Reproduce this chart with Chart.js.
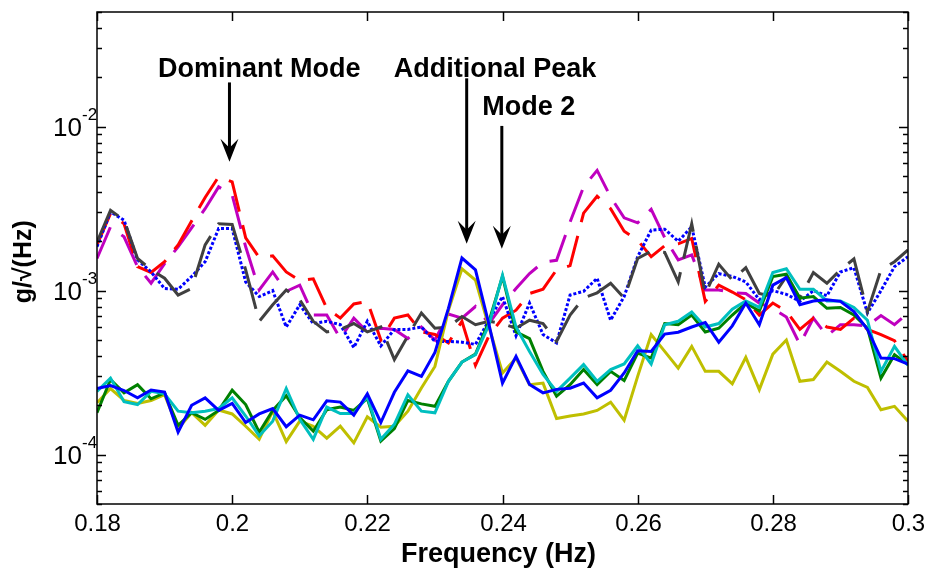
<!DOCTYPE html>
<html>
<head>
<meta charset="utf-8">
<title>Acceleration PSD</title>
<script src="https://cdn.jsdelivr.net/npm/chart.js@4.4.1/dist/chart.umd.min.js"></script>
<style>
  html, body { margin: 0; padding: 0; background: #fff; }
  #wrap { width: 927px; height: 569px; }
</style>
</head>
<body>
<div id="wrap"><canvas id="psdChart" width="927" height="569"></canvas></div>
<script>
// frequency bins (Hz)
const freqs = [
  0.180, 0.182, 0.184, 0.186, 0.188, 0.190, 0.192, 0.194, 0.196, 0.198,
  0.200, 0.202, 0.204, 0.206, 0.208, 0.210, 0.212, 0.214, 0.216, 0.218,
  0.220, 0.222, 0.224, 0.226, 0.228, 0.230, 0.232, 0.234, 0.236, 0.238,
  0.240, 0.242, 0.244, 0.246, 0.248, 0.250, 0.252, 0.254, 0.256, 0.258,
  0.260, 0.262, 0.264, 0.266, 0.268, 0.270, 0.272, 0.274, 0.276, 0.278,
  0.280, 0.282, 0.284, 0.286, 0.288, 0.290, 0.292, 0.294, 0.296, 0.298,
  0.300
];

// upper group (g/sqrt(Hz))
const redDash = [
  1.9e-3, 2.95e-3, 2.56e-3, 1.40e-3, 1.29e-3, 1.50e-3, 1.9e-3, 2.66e-3, 3.7e-3, 4.95e-3,
  4.6e-3, 2.1e-3, 1.59e-3, 1.63e-3, 1.30e-3, 1.15e-3, 1.18e-3, 7.8e-4, 6.8e-4, 8.3e-4,
  8.6e-4, 5.0e-4, 6.8e-4, 7.1e-4, 5.6e-4, 5.4e-4, 4.8e-4, 6.5e-4, 3.5e-4, 5.3e-4,
  6.8e-4, 7.6e-4, 9.6e-4, 1.02e-3, 1.34e-3, 1.42e-3, 2.97e-3, 3.76e-3, 3.16e-3, 2.30e-3,
  2.03e-3, 1.61e-3, 1.88e-3, 1.93e-3, 2.08e-3, 8.6e-4, 1.08e-3, 9.8e-4, 8.8e-4, 7.1e-4,
  8.4e-4, 7.5e-4, 5.8e-4, 6.8e-4, 6.0e-4, 5.8e-4, 6.8e-4, 5.8e-4, 5.4e-4, 4.95e-4,
  3.7e-4
];
const magentaDash = [
  1.57e-3, 2.45e-3, 2.13e-3, 1.40e-3, 1.11e-3, 1.46e-3, 1.85e-3, 2.41e-3, 3.16e-3, 4.29e-3,
  3.83e-3, 1.85e-3, 1.01e-3, 1.30e-3, 9.9e-4, 1.08e-3, 7.1e-4, 7.1e-4, 5.1e-4, 6.8e-4,
  5.6e-4, 5.9e-4, 5.8e-4, 5.1e-4, 6.0e-4, 5.0e-4, 7.2e-4, 6.8e-4, 8.0e-4, 6.3e-4,
  8.2e-4, 1.03e-3, 1.27e-3, 1.49e-3, 1.53e-3, 2.62e-3, 4.29e-3, 5.41e-3, 3.72e-3, 2.78e-3,
  2.59e-3, 3.13e-3, 2.10e-3, 1.54e-3, 1.65e-3, 1.01e-3, 1.01e-3, 9.7e-4, 9.6e-4, 8.4e-4,
  7.8e-4, 6.9e-4, 4.7e-4, 6.8e-4, 5.3e-4, 6.2e-4, 6.2e-4, 6.1e-4, 7.05e-4, 6.2e-4,
  7.3e-4
];
const grayDash = [
  1.98e-3, 3.09e-3, 2.69e-3, 1.57e-3, 1.34e-3, 1.19e-3, 9.4e-4, 1.03e-3, 1.90e-3, 2.56e-3,
  2.53e-3, 1.34e-3, 6.5e-4, 8.2e-4, 1.01e-3, 8.8e-4, 6.5e-4, 5.6e-4, 5.8e-4, 6.3e-4,
  5.6e-4, 6.0e-4, 3.8e-4, 5.3e-4, 7.3e-4, 5.9e-4, 6.0e-4, 6.95e-4, 6.2e-4, 6.5e-4,
  6.3e-4, 5.9e-4, 6.6e-4, 6.3e-4, 4.9e-4, 7.1e-4, 9.0e-4, 9.7e-4, 1.11e-3, 9.0e-4,
  1.57e-3, 1.74e-3, 1.71e-3, 1.13e-3, 2.56e-3, 9.5e-4, 1.45e-3, 1.16e-3, 1.38e-3, 9.6e-4,
  9.2e-4, 1.22e-3, 9.0e-4, 1.29e-3, 1.11e-3, 1.34e-3, 1.56e-3, 7.45e-4, 1.34e-3, 1.50e-3,
  1.77e-3
];
const blueDotted = [
  1.85e-3, 3.02e-3, 2.69e-3, 1.54e-3, 1.30e-3, 1.03e-3, 1.02e-3, 1.22e-3, 1.50e-3, 2.39e-3,
  2.39e-3, 1.13e-3, 9.2e-4, 1.0e-3, 6.0e-4, 8.2e-4, 6.3e-4, 6.5e-4, 6.2e-4, 4.5e-4,
  6.5e-4, 4.6e-4, 5.8e-4, 5.8e-4, 6.0e-4, 4.9e-4, 4.9e-4, 4.85e-4, 4.7e-4, 6.6e-4,
  9.2e-4, 5.3e-4, 8.4e-4, 5.4e-4, 4.8e-4, 9.4e-4, 9.9e-4, 1.19e-3, 6.6e-4, 9.2e-4,
  1.61e-3, 2.34e-3, 2.37e-3, 2.0e-3, 2.45e-3, 1.05e-3, 1.27e-3, 1.22e-3, 1.13e-3, 8.8e-4,
  1.0e-3, 9.5e-4, 8.6e-4, 1.0e-3, 9.3e-4, 1.30e-3, 1.38e-3, 7.3e-4, 1.0e-3, 1.40e-3,
  1.61e-3
];

// lower group
const greenSolid = [
  1.80e-4, 2.87e-4, 2.38e-4, 2.67e-4, 2.19e-4, 2.38e-4, 1.51e-4, 1.80e-4, 1.64e-4, 1.86e-4,
  2.47e-4, 2.02e-4, 1.37e-4, 1.86e-4, 2.29e-4, 1.68e-4, 1.39e-4, 1.88e-4, 1.95e-4, 1.86e-4,
  2.2e-4, 1.21e-4, 1.44e-4, 2.14e-4, 2.04e-4, 1.97e-4, 2.80e-4, 3.67e-4, 4.10e-4, 6.5e-4,
  1.22e-3, 5.6e-4, 5.1e-4, 3.22e-4, 2.27e-4, 2.67e-4, 3.30e-4, 2.67e-4, 3.22e-4, 2.83e-4,
  4.16e-4, 3.88e-4, 6.3e-4, 6.2e-4, 7.1e-4, 5.6e-4, 5.9e-4, 7.1e-4, 8.4e-4, 7.5e-4,
  1.22e-3, 1.26e-3, 9.0e-4, 9.2e-4, 7.8e-4, 7.9e-4, 7.1e-4, 5.9e-4, 2.93e-4, 4.07e-4,
  3.54e-4
];
const cyanSolid = [
  2.43e-4, 2.93e-4, 2.10e-4, 2.02e-4, 2.43e-4, 2.35e-4, 1.84e-4, 1.80e-4, 1.84e-4, 1.91e-4,
  2.22e-4, 1.72e-4, 1.30e-4, 1.60e-4, 2.53e-4, 1.64e-4, 1.24e-4, 1.95e-4, 1.78e-4, 1.78e-4,
  2.25e-4, 1.24e-4, 1.53e-4, 2.32e-4, 1.84e-4, 1.80e-4, 2.80e-4, 3.67e-4, 4.07e-4, 6.2e-4,
  1.24e-3, 6.0e-4, 4.26e-4, 3.08e-4, 2.43e-4, 2.93e-4, 3.54e-4, 2.80e-4, 3.30e-4, 3.57e-4,
  4.61e-4, 3.57e-4, 6.2e-4, 6.5e-4, 7.4e-4, 6.0e-4, 6.3e-4, 7.7e-4, 8.65e-4, 7.9e-4,
  1.29e-3, 1.36e-3, 1.02e-3, 1.02e-3, 8.65e-4, 8.65e-4, 7.9e-4, 6.6e-4, 3.22e-4, 4.57e-4,
  3.50e-4
];
const blueSolid = [
  2.53e-4, 2.64e-4, 2.46e-4, 2.22e-4, 2.48e-4, 2.41e-4, 1.37e-4, 2.0e-4, 2.22e-4, 1.86e-4,
  2.05e-4, 1.57e-4, 1.77e-4, 1.91e-4, 1.48e-4, 1.74e-4, 1.63e-4, 2.13e-4, 2.09e-4, 1.74e-4,
  2.35e-4, 1.57e-4, 2.40e-4, 3.24e-4, 3.00e-4, 4.20e-4, 7.8e-4, 1.58e-3, 1.34e-3, 6.2e-4,
  2.73e-4, 3.97e-4, 2.68e-4, 2.38e-4, 2.50e-4, 2.54e-4, 2.73e-4, 2.22e-4, 2.47e-4, 3.15e-4,
  4.30e-4, 4.26e-4, 5.43e-4, 5.58e-4, 6.0e-4, 6.4e-4, 4.85e-4, 6.1e-4, 8.4e-4, 6.2e-4,
  1.08e-3, 1.20e-3, 8.2e-4, 8.65e-4, 8.8e-4, 8.6e-4, 7.45e-4, 5.8e-4, 3.88e-4, 3.85e-4,
  3.57e-4
];
const yellowSolid = [
  2.07e-4, 2.53e-4, 2.14e-4, 2.05e-4, 2.14e-4, 2.32e-4, 1.44e-4, 1.80e-4, 1.51e-4, 1.87e-4,
  1.77e-4, 1.49e-4, 1.24e-4, 1.84e-4, 1.20e-4, 1.60e-4, 1.49e-4, 1.26e-4, 1.49e-4, 1.18e-4,
  1.70e-4, 1.47e-4, 1.49e-4, 1.84e-4, 2.55e-4, 3.45e-4, 7.6e-4, 1.36e-3, 1.16e-3, 6.0e-4,
  3.15e-4, 3.88e-4, 2.67e-4, 2.73e-4, 1.66e-4, 1.72e-4, 1.77e-4, 1.86e-4, 2.09e-4, 1.62e-4,
  3.00e-4, 5.4e-4, 4.26e-4, 3.37e-4, 4.57e-4, 3.22e-4, 3.22e-4, 2.70e-4, 3.92e-4, 2.49e-4,
  4.10e-4, 5.0e-4, 2.80e-4, 2.87e-4, 3.67e-4, 3.22e-4, 2.80e-4, 2.57e-4, 1.88e-4, 1.97e-4,
  1.60e-4
];

// axes
const xTicks = [0.18, 0.20, 0.22, 0.24, 0.26, 0.28, 0.30];
const xTickLabels = ['0.18', '0.2', '0.22', '0.24', '0.26', '0.28', '0.3'];
const yMajor = [1e-4, 1e-3, 1e-2];
const yMajorExp = ['-4', '-3', '-2'];
const xTitle = 'Frequency (Hz)';
const yTitle = 'g/\u221A(Hz)';

// callouts: text anchored at (freq, value), arrows run from -> to at freq
const callouts = [
  { text: 'Dominant Mode', x: 0.2040, y: 2.0e-2 },
  { text: 'Additional Peak', x: 0.2389, y: 2.0e-2 },
  { text: 'Mode 2', x: 0.2439, y: 1.17e-2 }
];
const arrows = [
  { x: 0.1996, from: 1.86e-2, to: 6.1e-3 },
  { x: 0.2347, from: 1.97e-2, to: 1.93e-3 },
  { x: 0.2399, from: 1.01e-2, to: 1.80e-3 }
];

const toPoints = vals => vals.map((v, i) => ({ x: freqs[i], y: v }));

function line(color, vals, dash, width) {
  return {
    data: toPoints(vals),
    borderColor: color,
    borderWidth: width || 3,
    borderDash: dash || [],
    borderCapStyle: 'butt',
    borderJoinStyle: 'miter',
    pointRadius: 0,
    tension: 0,
    fill: false
  };
}

const FONT = '"Liberation Sans", Arial, Helvetica, sans-serif';

// box, inward ticks, labels, titles and callouts
const frame = {
  id: 'frame',
  afterDraw(chart) {
    const { ctx, chartArea: a, scales: { x, y } } = chart;
    ctx.save();
    ctx.strokeStyle = '#000';
    ctx.fillStyle = '#000';
    ctx.lineWidth = 1.5;

    const seg = (x0, y0, x1, y1) => {
      ctx.beginPath(); ctx.moveTo(x0, y0); ctx.lineTo(x1, y1); ctx.stroke();
    };

    ctx.strokeRect(a.left, a.top, a.right - a.left, a.bottom - a.top);

    // x ticks + labels
    ctx.font = '24px ' + FONT;
    ctx.textAlign = 'center';
    ctx.textBaseline = 'alphabetic';
    xTicks.forEach((v, i) => {
      const px = Math.round(x.getPixelForValue(v)) + 0.5;
      seg(px, a.bottom, px, a.bottom - 9);
      seg(px, a.top, px, a.top + 9);
      ctx.fillText(xTickLabels[i], px, a.bottom + 27);
    });

    // y minor ticks over every decade in range
    for (let e = -5; e <= -2; e++) {
      for (let m = 2; m <= 9; m++) {
        const v = m * Math.pow(10, e);
        if (v < y.min || v > y.max) continue;
        const py = Math.round(y.getPixelForValue(v)) + 0.5;
        seg(a.left, py, a.left + 5, py);
        seg(a.right, py, a.right - 5, py);
      }
    }
    // y major ticks + labels
    yMajor.forEach((v, i) => {
      const py = Math.round(y.getPixelForValue(v)) + 0.5;
      seg(a.left, py, a.left + 9, py);
      seg(a.right, py, a.right - 9, py);
      ctx.font = '26px ' + FONT;
      ctx.textAlign = 'right';
      ctx.textBaseline = 'middle';
      ctx.fillText('10', a.left - 15, py + 1);
      ctx.font = '17px ' + FONT;
      ctx.textAlign = 'left';
      ctx.textBaseline = 'alphabetic';
      ctx.fillText(yMajorExp[i], a.left - 15, py - 8);
    });

    // axis titles
    ctx.font = 'bold 27px ' + FONT;
    ctx.textAlign = 'center';
    ctx.textBaseline = 'alphabetic';
    ctx.fillText(xTitle, (a.left + a.right) / 2 - 4, a.bottom + 58);

    ctx.save();
    ctx.translate(31, y.getPixelForValue(1.5e-3));
    ctx.rotate(-Math.PI / 2);
    ctx.font = 'bold 25px ' + FONT;
    ctx.fillText(yTitle, 0, 0);
    ctx.restore();

    // callout text
    ctx.font = 'bold 27px ' + FONT;
    ctx.textAlign = 'center';
    callouts.forEach(c => {
      ctx.fillText(c.text, x.getPixelForValue(c.x), y.getPixelForValue(c.y));
    });

    // arrows with notched heads
    ctx.lineWidth = 3;
    arrows.forEach(ar => {
      const px = x.getPixelForValue(ar.x);
      const y0 = y.getPixelForValue(ar.from);
      const y1 = y.getPixelForValue(ar.to);
      seg(px, y0, px, y1 - 12);
      ctx.beginPath();
      ctx.moveTo(px, y1);
      ctx.lineTo(px - 9, y1 - 23);
      ctx.lineTo(px, y1 - 14);
      ctx.lineTo(px + 9, y1 - 23);
      ctx.closePath();
      ctx.fill();
    });

    ctx.restore();
  }
};

new Chart(document.getElementById('psdChart'), {
  type: 'line',
  data: {
    datasets: [
      line('#0000ff', blueSolid),
      line('#00bfbf', cyanSolid),
      line('#008000', greenSolid),
      line('#bfbf00', yellowSolid),
      line('#404040', grayDash, [44, 14]),
      line('#0000ff', blueDotted, [3, 2]),
      line('#ff0000', redDash, [34, 14]),
      line('#bf00bf', magentaDash, [34, 14])
    ]
  },
  options: {
    responsive: false,
    animation: false,
    devicePixelRatio: 1,
    layout: { padding: { left: 97, right: 19, top: 12, bottom: 65 } },
    plugins: { legend: { display: false }, tooltip: { enabled: false } },
    scales: {
      x: { type: 'linear', min: 0.18, max: 0.30, display: false },
      y: { type: 'logarithmic', min: 5e-5, max: 5e-2, display: false }
    }
  },
  plugins: [frame]
});
</script>
</body>
</html>
